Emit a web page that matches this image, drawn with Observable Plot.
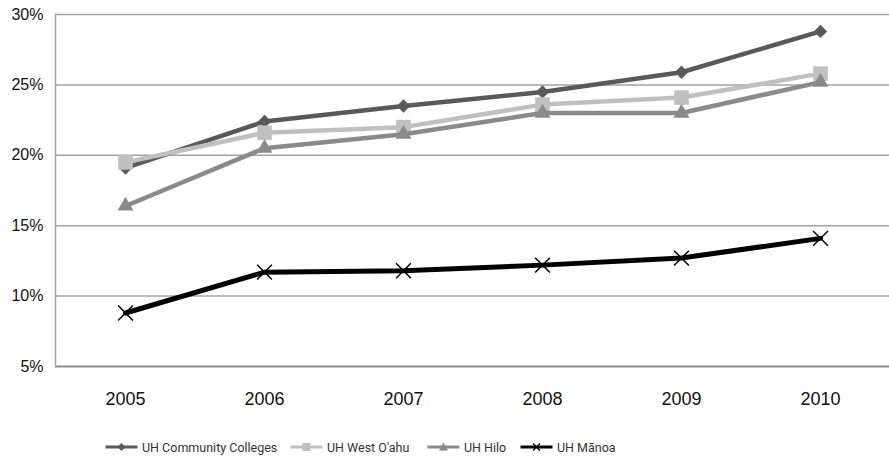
<!DOCTYPE html>
<html>
<head>
<meta charset="utf-8">
<script src="https://cdn.jsdelivr.net/npm/d3@7"></script>
<script src="https://cdn.jsdelivr.net/npm/@observablehq/plot@0.6"></script>
<style>
  body { margin: 0; background: #fff; }
  #chart { position: relative; width: 889px; height: 464px; }
  .legend { position: absolute; top: 437px; left: 0; width: 889px; height: 20px;
            font-family: Roboto, "Open Sans", sans-serif; font-size: 12.5px; color: #333; }
  .item { position: absolute; top: 0; height: 20px; display: flex; align-items: center; white-space: nowrap; }
  .item svg { margin-right: 4px; }
</style>
</head>
<body>
<div id="chart"></div>
<script>
// Share of students (%) by campus, 2005–2010
const years = [2005, 2006, 2007, 2008, 2009, 2010];
const communityColleges = [19.1, 22.4, 23.5, 24.5, 25.9, 28.8];
const westOahu = [19.5, 21.6, 22.0, 23.6, 24.1, 25.8];
const hilo = [16.4, 20.5, 21.5, 23.0, 23.0, 25.2];
const manoa = [8.8, 11.7, 11.8, 12.2, 12.7, 14.1];
const yTicks = [5, 10, 15, 20, 25, 30];
const seriesNames = ["UH Community Colleges", "UH West O'ahu", "UH Hilo", "UH Mānoa"];

// Drawing style for each series, in drawing order
const styles = [
  { values: communityColleges, color: "#595959", symbol: "diamond2", r: 6, width: 4.5 },
  { values: westOahu, color: "#c0c0c0", symbol: "square2", r: 9.3, width: 4.5 },
  { values: hilo, color: "#8a8a8a", symbol: "triangle2", r: 7.6, width: 4.5 },
  { values: manoa, color: "#000000", symbol: "times", r: 6.8, width: 5 }
];

const axisFont = "'Liberation Sans', Arial, Helvetica, sans-serif";
const rows = (values, name) => years.map((year, i) => ({ year, value: values[i], name }));

const marks = [
  Plot.ruleY(yTicks.slice(1), { y: d => d, stroke: "#a3a3a3", strokeWidth: 1.5 }),
  Plot.ruleY([yTicks[0]], { y: d => d, stroke: "#8c8c8c", strokeWidth: 2 }),
  Plot.frame({ anchor: "left", stroke: "#a3a3a3", strokeWidth: 1.5 }),
  Plot.axisY({ ticks: yTicks, tickSize: 0, tickPadding: 12, tickFormat: d => d + "%",
               fontSize: 16, fontFamily: axisFont, fill: "#111", label: null }),
  Plot.axisX({ tickSize: 0, tickPadding: 26, tickFormat: d => String(d),
               fontSize: 18, fontFamily: axisFont, fill: "#111", label: null })
];

styles.forEach((s, k) => {
  const data = rows(s.values, seriesNames[k]);
  marks.push(
    Plot.line(data, { x: "year", y: "value", stroke: s.color, strokeWidth: s.width, strokeLinejoin: "round" }),
    s.symbol === "times"
      ? Plot.dot(data, { x: "year", y: "value", symbol: "times", r: s.r, stroke: s.color, strokeWidth: 1.5, fill: "none" })
      : Plot.dot(data, { x: "year", y: "value", symbol: s.symbol, r: s.r, fill: s.color, stroke: "none" })
  );
});

const chart = Plot.plot({
  width: 889,
  height: 420,
  marginTop: 14,
  marginBottom: 54,
  marginLeft: 55,
  marginRight: 0,
  style: { fontFamily: axisFont, background: "#fff", overflow: "visible" },
  x: { type: "point", domain: years, padding: 0.5 },
  y: { domain: [5, 30] },
  marks
});

const root = document.getElementById("chart");
root.appendChild(chart);

// Legend below the chart: a short line with the series marker, then the name
const legend = document.createElement("div");
legend.className = "legend";
const legendLeft = [105, 290, 427, 520];
const symbolPaths = {
  diamond2: "M16,5 L20,9 L16,13 L12,9 Z",
  square2: "M12,5 H20 V13 H12 Z",
  triangle2: "M16,4.5 L20.5,12.5 L11.5,12.5 Z",
  times: "M12.5,5.5 L19.5,12.5 M19.5,5.5 L12.5,12.5"
};
styles.forEach((s, k) => {
  const item = document.createElement("div");
  item.className = "item";
  item.style.left = legendLeft[k] + "px";
  const isX = s.symbol === "times";
  item.innerHTML =
    `<svg width="33" height="18" viewBox="0 0 32 18">` +
    `<line x1="0" x2="32" y1="9" y2="9" stroke="${s.color}" stroke-width="3"/>` +
    `<path d="${symbolPaths[s.symbol]}" ${isX ? `stroke="${s.color}" stroke-width="1.3" fill="none"` : `fill="${s.color}"`}/>` +
    `</svg><span>${seriesNames[k]}</span>`;
  legend.appendChild(item);
});
root.appendChild(legend);
</script>
</body>
</html>
